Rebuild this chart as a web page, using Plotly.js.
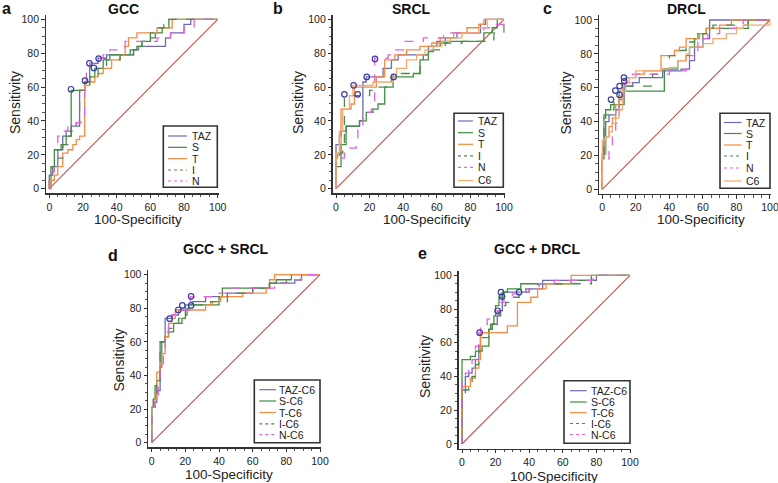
<!DOCTYPE html>
<html>
<head>
<meta charset="utf-8">
<script src="https://cdn.plot.ly/plotly-3.0.1.min.js"></script>
<style>html,body{margin:0;padding:0;background:#fff}#chart{width:778px;height:483px}</style>
</head>
<body>
<div id="chart"></div>
<script>
// ---------------- DATA ----------------
// Panel a : GCC
const gccNames = ["TAZ", "S", "T", "I", "N"];
const gccTAZ_x = [0,0,2,5,8,10,13,16,18,21,24,29,34,47,50,53,69,72,80,84,100];
const gccTAZ_y = [0,8,13,23,31,34,37,39,58,63,74,77,79,79,82,84,89,92,97,100,100];
const gccS_x = [0,1,3,7,10,13,21,24,27,32,36,48,52,55,60,63,67,71,100];
const gccS_y = [0,13,23,26,31,58,63,66,71,76,79,82,84,87,89,92,95,100,100];
const gccT_x = [0,1,3,5,8,11,14,16,18,21,24,27,29,32,37,42,45,47,52,64,73,100];
const gccT_y = [0,5,8,13,21,23,26,29,31,61,63,66,68,71,76,79,84,89,92,95,100,100];
const gccI_x = [0,0,2,5,8,11,13,16,18,21,24,29,34,42,50,55,60,63,68,71,100];
const gccI_y = [0,10,13,18,26,31,34,37,58,61,66,71,76,79,82,87,92,95,97,100,100];
const gccN_x = [0,0,1,3,5,8,11,16,19,21,22,24,29,32,36,45,64,72,80,86,100];
const gccN_y = [0,5,10,15,31,34,37,39,42,61,68,74,77,79,82,87,89,92,95,100,100];
const gccCut_x = [12.9, 21.2, 23.8, 26.5, 29.3];
const gccCut_y = [58.7, 63.8, 74.0, 71.3, 76.8];

// Panel b : SRCL
const srclNames = ["TAZ", "S", "T", "I", "N", "C6"];
const srclTAZ_x = [0,0,2,3,6,14,16,18,28,33,37,50,55,60,65,72,86,89,100];
const srclTAZ_y = [0,26,31,34,37,40,63,66,71,76,79,79,84,87,89,92,97,100,100];
const srclS_x = [0,0,3,6,14,18,22,25,29,34,46,50,52,55,58,62,66,70,88,93,96,100];
const srclS_y = [0,13,26,37,40,45,47,50,60,66,68,76,79,81,84,86,87,87,92,95,100,100];
const srclT_x = [0,0,1,3,9,11,24,29,35,42,50,57,62,70,78,85,88,100];
const srclT_y = [0,18,21,47,50,60,66,76,79,82,84,86,89,92,95,97,100,100];
const srclI_x = [0,0,2,4,5,20,25,30,33,34,50,55,65,75,94,100];
const srclI_y = [0,18,21,26,55,58,60,63,66,68,76,82,86,87,92,100];
const srclN_x = [0,0,2,5,8,12,13,16,19,21,23,31,35,41,52,64,88,94,100];
const srclN_y = [0,15,18,21,24,26,37,42,45,47,77,79,82,87,89,92,95,97,100];
const srclC6_x = [0,0,2,4,8,10,22,34,36,42,48,53,58,63,68,75,85,90,100];
const srclC6_y = [0,21,34,47,55,61,63,66,71,76,79,82,84,87,89,92,95,100,100];
const srclCut_x = [5.0, 10.5, 12.9, 18.3, 23.2, 34.3];
const srclCut_y = [55.7, 61.0, 55.7, 66.0, 76.6, 66.0];

// Panel c : DRCL
const drclNames = ["TAZ", "S", "T", "I", "N", "C6"];
const drclTAZ_x = [0,0,2,4,8,10,12,13,18,22,36,47,52,55,60,64,100];
const drclTAZ_y = [0,21,40,44,47,53,58,61,63,66,70,71,76,84,89,100,100];
const drclS_x = [0,0,1,2,5,13,37,45,50,52,55,57,62,87,100];
const drclS_y = [0,18,42,47,50,58,71,76,79,84,89,92,95,100,100];
const drclT_x = [0,0,2,4,6,8,10,12,14,20,25,35,43,46,50,58,62,70,77,100];
const drclT_y = [0,21,31,37,42,50,55,63,66,68,70,79,82,84,89,92,95,97,100,100];
const drclI_x = [0,0,1,4,7,10,13,30,35,40,45,50,55,60,63,66,87,100];
const drclI_y = [0,16,44,47,52,58,61,68,71,79,82,87,89,92,95,97,100,100];
const drclN_x = [0,0,2,4,6,8,10,12,13,18,40,50,52,57,60,63,70,80,84,100];
const drclN_y = [0,16,18,24,31,39,47,55,63,68,70,71,79,87,89,92,95,97,100,100];
const drclC6_x = [0,0,2,4,6,8,10,12,14,16,20,35,40,45,50,52,60,66,74,80,84,100];
const drclC6_y = [0,29,31,34,39,42,47,58,63,66,70,71,72,76,80,84,86,89,92,95,97,100];
const drclCut_x = [5.2, 7.8, 10.3, 10.3, 12.9, 13.1];
const drclCut_y = [53.0, 58.3, 61.0, 55.7, 66.0, 63.8];

// Panel d : GCC + SRCL
const gsNames = ["TAZ-C6", "S-C6", "T-C6", "I-C6", "N-C6"];
const gsTAZ_x = [0,0,2,3,5,6,8,12,16,20,24,32,45,60,70,85,89,100];
const gsTAZ_y = [0,21,24,31,45,60,74,76,79,82,84,87,89,92,95,97,100,100];
const gsS_x = [0,0,1,2,3,5,8,10,13,18,20,22,40,42,70,74,83,100];
const gsS_y = [0,21,26,34,37,60,63,66,71,74,79,82,87,92,95,97,100,100];
const gsT_x = [0,0,2,3,5,6,8,10,12,14,32,36,41,54,68,70,73,100];
const gsT_y = [0,21,26,42,47,53,63,71,74,79,82,84,87,89,92,97,100,100];
const gsI_x = [0,0,1,3,5,8,10,13,16,20,21,24,35,45,60,70,80,89,100];
const gsI_y = [0,21,29,37,60,63,68,71,74,76,80,82,84,89,92,95,97,100,100];
const gsN_x = [0,0,2,4,5,7,8,10,12,16,23,40,46,73,85,89,100];
const gsN_y = [0,21,26,34,47,55,66,71,76,79,87,89,92,95,97,100,100];
const gsCut_x = [10.7, 15.8, 18.2, 23.4, 23.4];
const gsCut_y = [73.8, 79.0, 81.7, 81.7, 87.1];

// Panel e : GCC + DRCL
const gdNames = ["TAZ-C6", "S-C6", "T-C6", "I-C6", "N-C6"];
const gdTAZ_x = [0,0,2,4,6,8,10,11,16,18,21,22,24,25,38,48,80,100];
const gdTAZ_y = [0,32,40,42,45,50,58,66,68,71,76,79,87,90,92,97,100,100];
const gdS_x = [0,0,5,8,11,16,17,19,20,22,24,27,35,65,77,100];
const gdS_y = [0,50,52,55,58,68,71,76,82,87,90,92,95,97,100,100];
const gdT_x = [0,0,5,8,10,11,27,33,41,45,50,65,100];
const gdT_y = [0,34,39,45,50,66,70,84,87,92,95,100,100];
const gdI_x = [0,0,2,4,6,8,10,12,16,18,21,23,26,30,34,40,45,77,80,100];
const gdI_y = [0,29,32,36,40,47,55,63,66,71,76,82,84,87,90,92,95,97,100,100];
const gdN_x = [0,0,2,4,6,8,10,11,15,18,21,22,25,30,34,40,46,55,78,100];
const gdN_y = [0,38,42,45,50,58,66,71,74,76,79,84,87,89,90,92,95,97,100,100];
const gdCut_x = [10.5, 21.2, 23.2, 23.8, 34.0];
const gdCut_y = [66.0, 79.0, 90.0, 87.4, 90.0];

const diag = [0, 100];
const ticksMajor = [0, 20, 40, 60, 80, 100];

// ---------------- STYLE / LAYOUT ----------------
const styleOf = {
  "TAZ": {color: "#6b6cb4", dash: "solid"},
  "S":   {color: "#3f8f3f", dash: "solid"},
  "T":   {color: "#f28c45", dash: "solid"},
  "I":   {color: "#4f8a4f", dash: "dash"},
  "N":   {color: "#e164e1", dash: "dash"},
  "C6":  {color: "#f5aa70", dash: "solid"}
};
function st(name){ return styleOf[name.split("-")[0]]; }

const W = 778, H = 483;
const PX = x => x / W, PY = y => 1 - y / H;

const panels = [
  {letter:"a", title:"GCC", names:gccNames,
   xs:[gccTAZ_x,gccS_x,gccT_x,gccI_x,gccN_x], ys:[gccTAZ_y,gccS_y,gccT_y,gccI_y,gccN_y],
   cx:gccCut_x, cy:gccCut_y,
   x0:49.3, x100:217.7, y0:188.7, y100:19.3,
   letterPos:[0.5,8.5], titlePos:[123,8.5], ylabPos:[15,103], xlabPos:[138,219],
   leg:{box:[163.3,126,217.3,187.3], rows:[136,147.3,158.7,170,181], l0:168, l1:187, tx:191}},
  {letter:"b", title:"SRCL", names:srclNames,
   xs:[srclTAZ_x,srclS_x,srclT_x,srclI_x,srclN_x,srclC6_x], ys:[srclTAZ_y,srclS_y,srclT_y,srclI_y,srclN_y,srclC6_y],
   cx:srclCut_x, cy:srclCut_y,
   x0:336, x100:504, y0:188.7, y100:19.3,
   letterPos:[272,8.5], titlePos:[411.7,8.5], ylabPos:[298,103], xlabPos:[427,219],
   leg:{box:[454,113.3,503.3,187.3], rows:[121,132.7,144.3,155.8,167.3,180.5], l0:458, l1:473, tx:476.5}},
  {letter:"c", title:"DRCL", names:drclNames,
   xs:[drclTAZ_x,drclS_x,drclT_x,drclI_x,drclN_x,drclC6_x], ys:[drclTAZ_y,drclS_y,drclT_y,drclI_y,drclN_y,drclC6_y],
   cx:drclCut_x, cy:drclCut_y,
   x0:602.3, x100:770, y0:189.3, y100:20,
   letterPos:[542,8.5], titlePos:[686,8.5], ylabPos:[565,103.5], xlabPos:[701,219.5],
   leg:{box:[720,113.3,770,188.3], rows:[122.5,133.5,145,156,168,181], l0:724, l1:741.5, tx:744.5}},
  {letter:"d", title:"GCC + SRCL", names:gsNames,
   xs:[gsTAZ_x,gsS_x,gsT_x,gsI_x,gsN_x], ys:[gsTAZ_y,gsS_y,gsT_y,gsI_y,gsN_y],
   cx:gsCut_x, cy:gsCut_y,
   x0:151.7, x100:320, y0:442.7, y100:274.7,
   letterPos:[107,255], titlePos:[226,249], ylabPos:[118.5,360], xlabPos:[229,474.5],
   leg:{box:[254.3,380,320,442.7], rows:[389.7,401,412.5,423.8,434.7], l0:259.3, l1:276, tx:277.5}},
  {letter:"e", title:"GCC + DRCL", names:gdNames,
   xs:[gdTAZ_x,gdS_x,gdT_x,gdI_x,gdN_x], ys:[gdTAZ_y,gdS_y,gdT_y,gdI_y,gdN_y],
   cx:gdCut_x, cy:gdCut_y,
   x0:462, x100:630, y0:444, y100:275.3,
   letterPos:[416.5,253], titlePos:[537,249], ylabPos:[425,367], xlabPos:[554,476],
   leg:{box:[564,380.7,630,443.3], rows:[390.7,402,412.7,423.5,434.5], l0:570, l1:586.7, tx:589.5}}
];

const FONT = "Liberation Sans, Arial, Helvetica, sans-serif";
const traces = [];
const layout = {
  width: W, height: H, autosize: false,
  margin: {l:0, r:0, t:0, b:0, pad:0},
  paper_bgcolor: "#ffffff", plot_bgcolor: "#ffffff",
  showlegend: false,
  font: {family: FONT, color: "#222", size: 11},
  shapes: [], annotations: []
};

panels.forEach((p, i) => {
  const n = i === 0 ? "" : String(i + 1);
  const xa = "x" + n, ya = "y" + n;
  const sx = (p.x100 - p.x0) / 100, sy = (p.y0 - p.y100) / 100;
  const left = p.x0 - 2 * sx, right = p.x0 + 100.5 * sx;
  const bottom = p.y0 + 2.7 * sy, top = p.y100 - 2.7 * sy;
  const axCommon = {
    showgrid: false, zeroline: false, showline: true, linecolor: "#333", linewidth: 1.3,
    ticks: "outside", ticklen: 3.5, tickwidth: 1, tickcolor: "#333",
    tickvals: ticksMajor, tickfont: {size: 10.5, color: "#222", family: FONT},
    ticklabeloverflow: "allow", ticklabelstandoff: 0,
    minor: {dtick: 5, tick0: 0, ticks: "outside", ticklen: 2.5, tickcolor: "#555", tickwidth: 1, showgrid: false},
    fixedrange: true
  };
  layout["xaxis" + n] = Object.assign({}, axCommon, {
    domain: [PX(left), PX(right)], range: [-2, 100.5], anchor: ya
  });
  layout["yaxis" + n] = Object.assign({}, axCommon, {
    domain: [PY(bottom), PY(top)], range: [-2.7, 102.7], anchor: xa
  });

  // diagonal reference line
  traces.push({x: diag, y: diag, xaxis: xa, yaxis: ya, mode: "lines", hoverinfo: "skip",
    line: {color: "#c0504d", width: 1.1}});
  // ROC curves
  p.names.forEach((nm, k) => {
    const s = st(nm);
    traces.push({x: p.xs[k], y: p.ys[k], xaxis: xa, yaxis: ya, name: nm, mode: "lines",
      line: {color: s.color, width: 1.3, dash: s.dash, shape: "hv"}});
  });
  // optimal criterion markers
  traces.push({x: p.cx, y: p.cy, xaxis: xa, yaxis: ya, mode: "markers", hoverinfo: "x+y",
    marker: {symbol: "circle-open", size: 5.5, color: "#3b3fa0", line: {width: 1.2, color: "#3b3fa0"}}});

  // titles / letters / axis titles
  layout.annotations.push(
    {xref:"paper", yref:"paper", x:PX(p.letterPos[0]), y:PY(p.letterPos[1]), xanchor:"left", yanchor:"middle",
     text:"<b>"+p.letter+"</b>", showarrow:false, borderpad:0, font:{size:16, color:"#111", family:FONT}},
    {xref:"paper", yref:"paper", x:PX(p.titlePos[0]), y:PY(p.titlePos[1]), xanchor:"center", yanchor:"middle",
     text:"<b>"+p.title+"</b>", showarrow:false, borderpad:0, font:{size:14, color:"#111", family:FONT}},
    {xref:"paper", yref:"paper", x:PX(p.xlabPos[0]), y:PY(p.xlabPos[1]), xanchor:"center", yanchor:"middle",
     text:"100-Specificity", showarrow:false, borderpad:0, font:{size:13.5, color:"#222", family:FONT}},
    {xref:"paper", yref:"paper", x:PX(p.ylabPos[0]), y:PY(p.ylabPos[1]), xanchor:"center", yanchor:"middle",
     text:"Sensitivity", textangle:-90, showarrow:false, borderpad:0, font:{size:14, color:"#222", family:FONT}}
  );

  // legend box
  const L = p.leg;
  layout.shapes.push({type:"rect", xref:"paper", yref:"paper",
    x0:PX(L.box[0]), x1:PX(L.box[2]), y0:PY(L.box[3]), y1:PY(L.box[1]),
    line:{color:"#333", width:1.6}, fillcolor:"#ffffff", layer:"above"});
  p.names.forEach((nm, k) => {
    const s = st(nm);
    layout.shapes.push({type:"line", xref:"paper", yref:"paper",
      x0:PX(L.l0), x1:PX(L.l1), y0:PY(L.rows[k]), y1:PY(L.rows[k]),
      line:{color:s.color, width:1.2, dash: s.dash === "dash" ? "dot" : "solid"}, layer:"above"});
    layout.annotations.push({xref:"paper", yref:"paper", x:PX(L.tx), y:PY(L.rows[k]),
      xanchor:"left", yanchor:"middle", text:nm, showarrow:false, borderpad:0,
      font:{size:10.5, color:"#222", family:FONT}});
  });
});

Plotly.newPlot("chart", traces, layout, {staticPlot: true, displayModeBar: false});
</script>
</body>
</html>
